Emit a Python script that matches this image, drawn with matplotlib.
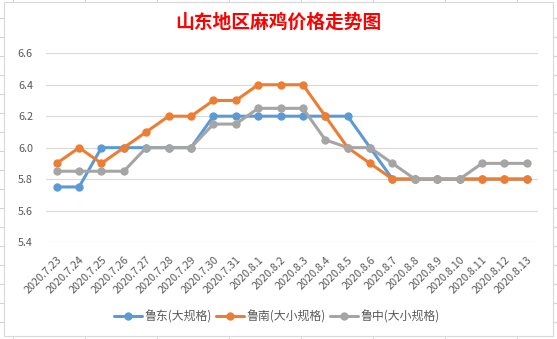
import matplotlib
matplotlib.use("Agg")
import matplotlib.pyplot as plt
from matplotlib.lines import Line2D
from matplotlib.patches import Rectangle

plt.rcParams['font.family'] = ['Noto Sans CJK SC', 'DejaVu Sans']

dates = ["2020.7.23", "2020.7.24", "2020.7.25", "2020.7.26", "2020.7.27",
         "2020.7.28", "2020.7.29", "2020.7.30", "2020.7.31", "2020.8.1",
         "2020.8.2", "2020.8.3", "2020.8.4", "2020.8.5", "2020.8.6",
         "2020.8.7", "2020.8.8", "2020.8.9", "2020.8.10", "2020.8.11",
         "2020.8.12", "2020.8.13"]
ludong = [5.75, 5.75, 6.0, 6.0, 6.0, 6.0, 6.0, 6.2, 6.2, 6.2, 6.2,
          6.2, 6.2, 6.2, 6.0, 5.8, 5.8, 5.8, 5.8, 5.8, 5.8, 5.8]
lunan = [5.9, 6.0, 5.9, 6.0, 6.1, 6.2, 6.2, 6.3, 6.3, 6.4, 6.4,
         6.4, 6.2, 6.0, 5.9, 5.8, 5.8, 5.8, 5.8, 5.8, 5.8, 5.8]
luzhong = [5.85, 5.85, 5.85, 5.85, 6.0, 6.0, 6.0, 6.15, 6.15, 6.25, 6.25,
           6.25, 6.05, 6.0, 6.0, 5.9, 5.8, 5.8, 5.8, 5.9, 5.9, 5.9]
series_names = ["鲁东(大规格)", "鲁南(大小规格)", "鲁中(大小规格)"]
colors = ["#5B9BD5", "#ED7D31", "#A5A5A5"]
yticks = [5.4, 5.6, 5.8, 6.0, 6.2, 6.4, 6.6]

W, H = 557, 339
fig = plt.figure(figsize=(W / 100, H / 100), dpi=100)

# excel sheet grid peeking out around the chart
grid_col = "#D4D4D4"
for k in range(8):
    x = (13.3 + 72 * k) / W
    fig.add_artist(Line2D([x, x], [1 - 3 / H, 1], color=grid_col, lw=0.8, zorder=-3))
    fig.add_artist(Line2D([x, x], [0, 3.5 / H], color=grid_col, lw=0.8, zorder=-3))
for k in range(18):
    y = 1 - (18.3 + 19 * k) / H
    fig.add_artist(Line2D([0, 3.5 / W], [y, y], color=grid_col, lw=0.8, zorder=-3))
    fig.add_artist(Line2D([1 - 4 / W, 1], [y, y], color=grid_col, lw=0.8, zorder=-3))
fig.add_artist(Rectangle((3.5 / W, 3.3 / H), 549.5 / W, 333.5 / H,
                         facecolor="white", edgecolor="#D9D9D9", lw=0.8,
                         zorder=-2))

ax = fig.add_axes([45.5 / W, 97 / H, 492.5 / W, 188.7 / H])
ax.patch.set_alpha(0)
x = list(range(len(dates)))
for vals, name, c in zip([ludong, lunan, luzhong], series_names, colors):
    ax.plot(x, vals, color=c, lw=2.2, marker="o", markersize=5, label=name,
            solid_capstyle="round")

ax.set_xlim(-0.5, len(dates) - 0.5)
ax.set_ylim(5.4, 6.6)
ax.set_yticks(yticks)
ax.set_yticklabels([f"{v:.1f}" for v in yticks])
ax.set_xticks(x)
ax.set_xticklabels(dates, rotation=45, ha="right", rotation_mode="anchor")
ax.tick_params(axis="both", length=0, colors="#595959", labelsize=7.8)
ax.tick_params(axis="y", pad=9)
ax.tick_params(axis="x", pad=9)
ax.grid(axis="y", color="#D9D9D9", lw=0.8)
ax.set_axisbelow(True)
for s in ax.spines.values():
    s.set_visible(False)

fig.text(0.5, 1 - 22 / H, "山东地区麻鸡价格走势图", color="red",
         fontsize=13.5, fontweight="bold", ha="center", va="center")

fig.legend(loc="center", bbox_to_anchor=(0.497, 1 - 317 / H), ncol=3,
           frameon=False, fontsize=8.6, handlelength=2.4, handletextpad=0.2,
           columnspacing=0.3, labelcolor="#595959")

fig.savefig("out.png", dpi=100)
